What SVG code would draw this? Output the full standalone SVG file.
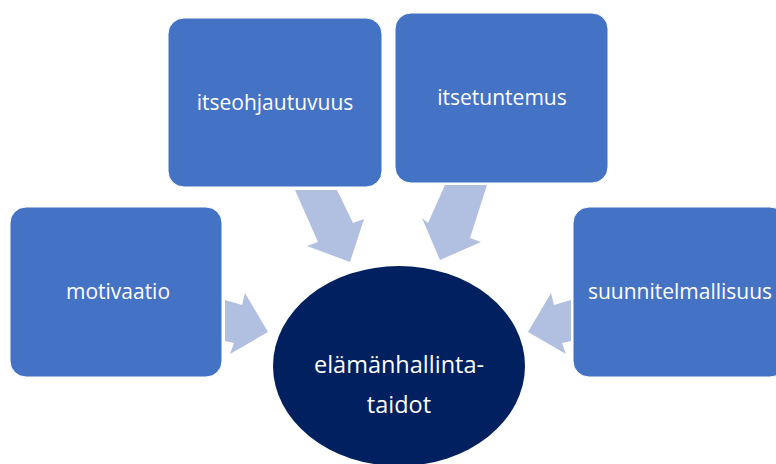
<svg xmlns="http://www.w3.org/2000/svg" width="776" height="464" viewBox="0 0 776 464">
<style>
.box{fill:#4472C4;stroke:#ffffff;stroke-width:1}
.lbl{font-family:"Open Sans","Noto Sans",sans-serif;font-size:21px;fill:#ffffff;text-anchor:middle}
.clbl{font-family:"Open Sans","Noto Sans",sans-serif;font-size:23.5px;fill:#ffffff;text-anchor:middle}
.arr{fill:#B1BFE1}
</style>
<rect width="776" height="464" fill="#ffffff"/>
<g id="connectors">
<polygon class="arr" points="295,190 337,190 353,223 364,219 350,262 307,246 318,242"/>
<polygon class="arr" points="487,185 445,185 428,223 422,218 440,260 481,242 470,238"/>
<polygon class="arr" points="225,300 242,305 245,293 268,332 230,354 234,343 225,341"/>
<polygon class="arr" points="571,300 554,305 551,293 528,332 566,354 562,343 571,341"/>
</g>
<g id="itseohjautuvuus">
<rect class="box" x="168" y="18" width="214" height="169" rx="16"/>
<text class="lbl" x="275" y="110">itseohjautuvuus</text>
</g>
<g id="itsetuntemus">
<rect class="box" x="395" y="13" width="213" height="170" rx="16"/>
<text class="lbl" x="502" y="105">itsetuntemus</text>
</g>
<g id="motivaatio">
<rect class="box" x="10" y="207" width="212" height="170" rx="16"/>
<text class="lbl" x="118" y="299">motivaatio</text>
</g>
<g id="suunnitelmallisuus">
<rect class="box" x="573" y="207" width="213" height="170" rx="16"/>
<text class="lbl" x="680" y="299">suunnitelmallisuus</text>
</g>
<g id="elamanhallintataidot">
<ellipse cx="399" cy="366" rx="126" ry="100" fill="#002060"/>
<text class="clbl" x="399" y="373">elämänhallinta-</text>
<text class="clbl" x="399" y="413">taidot</text>
</g>
</svg>
